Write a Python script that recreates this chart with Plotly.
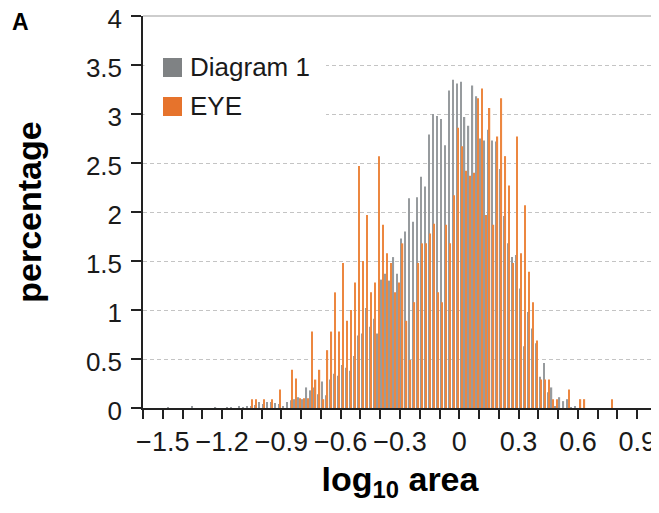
import plotly.graph_objects as go

# ---- data -------------------------------------------------------------
bin_start = -1.51          # centre of first bin
bin_width = 0.02
n_bins = 116

gray_diagram1 = [
    0, 0, 0.01, 0, 0, 0, 0, 0, 0.015, 0,
    0, 0, 0, 0, 0.01, 0, 0, 0.01, 0.01, 0,
    0.02, 0.01, 0.02,
    0.02, 0.03, 0.06, 0.04, 0.06, 0.06, 0.05, 0.04, 0.02, 0.06,
    0.08, 0.09, 0.11, 0.09, 0.21, 0.18, 0.21, 0.14, 0.27, 0.13,
    0.29, 0.35, 0.33, 0.44, 0.41, 0.38, 0.53, 0.74, 0.76, 1.02,
    0.83, 0.91, 0.76, 1.31, 1.37, 1.30, 1.54, 1.37, 1.73, 1.80,
    2.14, 1.90, 2.15, 2.36, 2.26, 2.79, 3.00, 2.98, 2.95, 2.68,
    3.24, 3.35, 3.31, 3.33, 2.97, 2.88, 3.29, 3.18, 2.75, 2.73,
    2.84, 2.73, 2.72, 2.44, 1.96, 1.68, 1.54, 1.56, 1.22, 0.63,
    0.98, 0.81, 0.66, 0.32, 0.46, 0.16, 0.21, 0.02, 0.11, 0.07,
    0.09, 0.01, 0.02, 0, 0, 0, 0, 0, 0, 0,
    0, 0, 0,
]

orange_eye = [
    0, 0, 0, 0, 0, 0, 0, 0, 0, 0,
    0, 0, 0, 0, 0, 0, 0, 0, 0, 0,
    0, 0, 0,
    0.09, 0.09, 0, 0.09, 0, 0.09, 0, 0.19, 0, 0,
    0.39, 0.30, 0.10, 0.10, 0.10, 0.78, 0.29, 0.39, 0.09, 0.59,
    0.78, 1.18, 0.78, 1.48, 0.89, 1.00, 1.28, 2.47, 1.50, 1.97,
    1.18, 1.28, 2.57, 1.87, 1.58, 1.48, 1.18, 1.28, 1.68, 0.89,
    0.49, 1.08, 1.48, 1.68, 1.68, 1.78, 1.88, 1.18, 1.08, 1.87,
    1.68, 2.17, 2.86, 2.67, 2.42, 2.37, 2.40, 3.16, 3.26, 1.97,
    3.06, 1.87, 2.77, 3.16, 2.57, 2.27, 1.48, 2.77, 1.58, 2.07,
    1.39, 1.08, 0.69, 0.29, 0.29, 0.29, 0.09, 0.09, 0, 0,
    0.19, 0, 0, 0.09, 0.09, 0, 0, 0, 0, 0,
    0, 0.09, 0,
]

bin_centers = [round(bin_start + i * bin_width, 3) for i in range(n_bins)]

series_names = ["Diagram 1", "EYE"]
x_tick_vals = [-1.5, -1.2, -0.9, -0.6, -0.3, 0, 0.3, 0.6, 0.9]

GRAY = "#979b9e"
ORANGE = "#ec8740"
FONT = "Liberation Sans"
INK = "#1a1a1a"

# ---- figure -----------------------------------------------------------
# the page body adds an 8px offset, so the figure is 8px smaller and the
# margins are reduced by 8px on the top/left
OFF = 8
W, H = 659 - OFF, 513 - OFF
L, R, T, B = 143 - OFF, 2, 16 - OFF, 105

fig = go.Figure()
fig.add_bar(x=bin_centers, y=gray_diagram1, name=series_names[0],
            marker=dict(color=GRAY, line=dict(width=0)), showlegend=False)
fig.add_bar(x=bin_centers, y=orange_eye, name=series_names[1],
            marker=dict(color=ORANGE, line=dict(width=0)), showlegend=False)

# helpers: screen-pixel position (of the 659x513 window) -> paper coords
def px(x):
    return (x - OFF - L) / (W - L - R)

def py(y):
    return (H - B - (y - OFF)) / (H - T - B)

shapes = [
    # solid light line along the top of the plot (y = 4)
    dict(type="line", xref="paper", yref="paper", x0=0, x1=1, y0=1, y1=1,
         line=dict(color="#cdcdcd", width=2), layer="below"),
    # legend background (covers gridlines)
    dict(type="rect", xref="paper", yref="paper", x0=px(144.5), x1=px(326),
         y0=py(126), y1=py(42), fillcolor="white", line=dict(width=0),
         layer="above"),
    dict(type="rect", xref="paper", yref="paper", x0=px(163), x1=px(182),
         y0=py(77), y1=py(58), fillcolor="#7f8284", line=dict(width=0),
         layer="above"),
    dict(type="rect", xref="paper", yref="paper", x0=px(163), x1=px(182),
         y0=py(116), y1=py(97), fillcolor="#e6732c", line=dict(width=0),
         layer="above"),
]

annotations = [
    dict(text=series_names[0], xref="paper", yref="paper", x=px(188), y=py(67),
         xanchor="left", yanchor="middle", showarrow=False,
         font=dict(family=FONT, size=26, color=INK)),
    dict(text=series_names[1], xref="paper", yref="paper", x=px(188), y=py(106),
         xanchor="left", yanchor="middle", showarrow=False,
         font=dict(family=FONT, size=26, color=INK)),
    dict(text="A", xref="paper", yref="paper", x=px(20), y=py(22),
         xanchor="center", yanchor="middle", showarrow=False,
         font=dict(family=FONT, size=23, color="#000", weight="bold")),
]

fig.update_layout(
    width=W, height=H, autosize=False,
    margin=dict(l=L, r=R, t=T, b=B, pad=0, autoexpand=False),
    paper_bgcolor="white", plot_bgcolor="white",
    barmode="group", bargap=0.36, bargroupgap=0.0,
    shapes=shapes, annotations=annotations,
    font=dict(family=FONT, color=INK),
)

fig.update_xaxes(
    automargin=False, ticklabeloverflow="allow",
    range=[-1.6, 1.0], tickmode="array", tickvals=x_tick_vals,
    ticks="outside", ticklen=9, tickwidth=1.5, tickcolor="#222",
    showline=True, linecolor="#222", linewidth=1.5,
    showgrid=False, zeroline=False,
    tickfont=dict(family=FONT, size=27, color=INK),
    minor=dict(dtick=0.1, tick0=-1.6, ticks="outside", ticklen=9,
               tickwidth=1.5, tickcolor="#222", showgrid=False),
    title=dict(text="log<sub>10</sub> area", standoff=11,
               font=dict(family=FONT, size=34, color="#000", weight="bold")),
)

fig.update_yaxes(
    automargin=False, ticklabeloverflow="allow",
    range=[0, 4], dtick=0.5, tick0=0,
    ticks="outside", ticklen=10, tickwidth=1.5, tickcolor="#222",
    showline=True, linecolor="#222", linewidth=1.5,
    showgrid=True, gridcolor="#c4c4c4", gridwidth=1, griddash="4px,3px",
    zeroline=False, ticklabelstandoff=4, ticklabelshift=3,
    tickfont=dict(family=FONT, size=26, color=INK),
    title=dict(text="percentage", standoff=34,
               font=dict(family=FONT, size=34, color="#000", weight="bold")),
)

fig.write_html("out.html")
